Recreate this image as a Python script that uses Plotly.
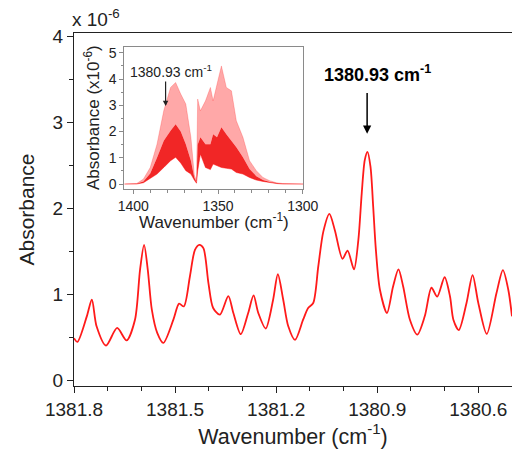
import plotly.graph_objects as go

# ---------------- main spectrum (absorbance in units of 1e-6) ----------------
wavenumber = [1381.800, 1381.790, 1381.762, 1381.747, 1381.733, 1381.705, 1381.672,
              1381.644, 1381.619, 1381.604, 1381.592, 1381.581, 1381.569, 1381.553,
              1381.535, 1381.505, 1381.488, 1381.474, 1381.456, 1381.441, 1381.428,
              1381.416, 1381.401, 1381.387, 1381.367, 1381.342, 1381.327, 1381.305,
              1381.283, 1381.267, 1381.253, 1381.231, 1381.209, 1381.195, 1381.179,
              1381.164, 1381.144, 1381.120, 1381.105, 1381.090, 1381.075, 1381.060,
              1381.042, 1381.026, 1381.003, 1380.988, 1380.969, 1380.956, 1380.946,
              1380.937, 1380.929, 1380.920, 1380.912, 1380.904, 1380.892, 1380.871,
              1380.853, 1380.837, 1380.823, 1380.803, 1380.781, 1380.759, 1380.739,
              1380.722, 1380.700, 1380.684, 1380.674, 1380.658, 1380.635, 1380.617,
              1380.600, 1380.575, 1380.546, 1380.527, 1380.511, 1380.500]
absorbance = [0.496, 0.452, 0.749, 0.942, 0.633, 0.409, 0.614,
              0.470, 0.710, 1.290, 1.579, 1.290, 0.826, 0.556,
              0.440, 0.710, 0.896, 0.864, 1.212, 1.521, 1.579,
              1.541, 1.136, 0.846, 0.768, 0.983, 0.788, 0.542,
              0.788, 0.992, 0.788, 0.608, 0.942, 1.238, 0.942,
              0.633, 0.475, 0.710, 0.846, 0.904, 1.328, 1.733,
              1.939, 1.753, 1.417, 1.512, 1.295, 1.637, 2.178,
              2.564, 2.660, 2.487, 2.023, 1.521, 1.058, 0.788,
              1.096, 1.295, 1.096, 0.710, 0.537, 0.749, 1.081,
              0.977, 1.203, 0.980, 0.710, 0.589, 0.904, 1.228,
              0.904, 0.545, 1.020, 1.286, 1.058, 0.749]

x_tick_vals = [1381.8, 1381.5, 1381.2, 1380.9, 1380.6]
x_tick_text = ["1381.8", "1381.5", "1381.2", "1380.9", "1380.6"]
y_tick_vals = [0, 1, 2, 3, 4]

peak_wn = 1380.93
peak_label = "1380.93 cm<sup>-1</sup>"

# ---------------- inset: full band envelope (x1e-6) ----------------
inset_wn = [1405.3, 1398, 1394, 1390, 1386, 1382, 1378, 1375, 1372, 1369, 1366,
            1364, 1362.7, 1362, 1360.4, 1357.4, 1354.5, 1352.9, 1350.6, 1348,
            1345.1, 1342.1, 1339.2, 1335.3, 1331.4, 1327.4, 1323.5, 1319.6,
            1315.6, 1311.8, 1299.7]
inset_min = [0, 0, 0.05, 0.2, 0.38, 0.63, 0.89, 1.02, 0.8, 0.51, 0.38,
             0.15, 0.03, 0.5, 1.14, 0.63, 0.55, 0.76, 0.7, 0.63,
             0.6, 0.57, 0.44, 0.38, 0.25, 0.15, 0.1, 0.05,
             0.02, 0, 0]
inset_core = [0, 0.01, 0.1, 0.4, 1.0, 1.65, 2.03, 2.28, 2.0, 1.52, 0.89,
              0.25, 0.08, 1.5, 1.78, 1.52, 1.52, 1.9, 1.78, 2.16,
              1.9, 1.65, 1.4, 1.02, 0.57, 0.3, 0.15, 0.08,
              0.03, 0.01, 0]
inset_max = [0, 0.02, 0.19, 0.63, 1.52, 2.8, 3.68, 3.87, 3.43, 3.05, 1.78,
             0.35, 0.12, 3.24, 2.79, 3.17, 3.68, 3.17, 3.8, 4.5,
             3.68, 3.55, 2.41, 1.78, 0.89, 0.51, 0.25, 0.13,
             0.05, 0.02, 0]
inset_x_ticks = [1400, 1350, 1300]
inset_y_ticks = [0, 1, 2, 3, 4, 5]

FONT = "Liberation Sans, Arial, sans-serif"
AX = "#222222"
INSET_AX = "#8a8a8a"

fig = go.Figure()

fig.add_trace(go.Scatter(x=wavenumber, y=absorbance, mode="lines",
                         line=dict(color="#ff1a1a", width=1.8, shape="spline", smoothing=0.8),
                         showlegend=False, hoverinfo="skip"))

# inset bands
fig.add_trace(go.Scatter(x=inset_wn, y=inset_min, mode="lines", xaxis="x2", yaxis="y2",
                         line=dict(color="rgba(255,0,0,0.55)", width=0.8),
                         showlegend=False, hoverinfo="skip"))
fig.add_trace(go.Scatter(x=inset_wn, y=inset_core, mode="lines", xaxis="x2", yaxis="y2",
                         line=dict(color="rgba(230,0,0,0.85)", width=0),
                         fill="tonexty", fillcolor="rgba(238,0,0,0.85)",
                         showlegend=False, hoverinfo="skip"))
fig.add_trace(go.Scatter(x=inset_wn, y=inset_max, mode="lines", xaxis="x2", yaxis="y2",
                         line=dict(color="rgba(255,0,0,0.35)", width=0.6),
                         fill="tonexty", fillcolor="rgba(255,0,0,0.34)",
                         showlegend=False, hoverinfo="skip"))

fig.update_layout(
    width=512, height=455,
    margin=dict(l=74, r=0, t=33, b=69, autoexpand=False),
    plot_bgcolor="white", paper_bgcolor="white",
    font=dict(family=FONT, color=AX),
    xaxis=dict(range=[1381.8, 1380.5], tickvals=x_tick_vals, ticktext=x_tick_text,
               automargin=False,
               showgrid=False, zeroline=False, showline=True, mirror=True,
               linecolor=AX, linewidth=1.3, ticks="outside", ticklen=6, tickwidth=1.3,
               tickcolor=AX, tickfont=dict(size=19, family=FONT, color=AX),
               minor=dict(tick0=1381.8, dtick=0.1, ticks="outside", ticklen=3.5,
                          tickwidth=1.2, tickcolor=AX, showgrid=False),
               title=dict(text="Wavenumber (cm<sup>-1</sup>)", font=dict(size=21.5, family=FONT, color=AX),
                          standoff=9)),
    yaxis=dict(range=[-0.06, 4.04], tickvals=y_tick_vals, automargin=False,
               showgrid=False, zeroline=False, showline=True, mirror=False,
               linecolor=AX, linewidth=1.3, ticks="outside", ticklen=6, tickwidth=1.3,
               tickcolor=AX, tickfont=dict(size=19, family=FONT, color=AX),
               minor=dict(tick0=0, dtick=0.5, ticks="outside", ticklen=3.5,
                          tickwidth=1.2, tickcolor=AX, showgrid=False),
               title=dict(text="Absorbance", font=dict(size=21, family=FONT, color=AX),
                          standoff=12)),
    xaxis2=dict(domain=[0.1148, 0.5235], anchor="y2", range=[1405.3, 1299.7],
                automargin=False,
                tickvals=inset_x_ticks, showgrid=False, zeroline=False, showline=True,
                mirror=True, linecolor=INSET_AX, linewidth=1, ticks="outside", ticklen=4,
                tickwidth=1, tickcolor=INSET_AX, tickfont=dict(size=14, family=FONT, color=AX),
                minor=dict(tick0=1300, dtick=10, ticks="outside", ticklen=2.5, tickwidth=1,
                           tickcolor=INSET_AX, showgrid=False)),
    yaxis2=dict(domain=[0.558, 0.961], anchor="x2", range=[-0.19, 5.23],
                automargin=False,
                tickvals=inset_y_ticks, showgrid=False, zeroline=False, showline=True,
                mirror=True, linecolor=INSET_AX, linewidth=1, ticks="outside", ticklen=4,
                tickwidth=1, tickcolor=INSET_AX, tickfont=dict(size=14, family=FONT, color=AX),
                minor=dict(tick0=0, dtick=0.5, ticks="outside", ticklen=2.5, tickwidth=1,
                           tickcolor=INSET_AX, showgrid=False)),
)

annotations = [
    # axis multiplier
    dict(x=0.05, y=1.0, xref="paper", yref="paper", xanchor="center", yanchor="bottom",
         text="x 10<sup>-6</sup>", showarrow=False, yshift=1,
         font=dict(size=19, family=FONT, color=AX)),
    # inset axis titles
    dict(x=0.3196, y=0.468, xref="paper", yref="paper", xanchor="center", yanchor="middle",
         text="Wavenumber (cm<sup>-1</sup>)", showarrow=False,
         font=dict(size=17, family=FONT, color=AX)),
    dict(x=0.0411, y=0.759, xref="paper", yref="paper", xanchor="center", yanchor="middle",
         text="Absorbance (x10<sup>-6</sup>)", showarrow=False, textangle=-90,
         font=dict(size=17, family=FONT, color=AX)),
    # main peak label and arrow
    dict(x=peak_wn, y=3.57, xref="x", yref="y", text="<b>" + peak_label + "</b>",
         showarrow=False, xshift=10, font=dict(size=18, family=FONT, color="black")),
    dict(x=peak_wn, y=2.87, ax=peak_wn, ay=3.36, xref="x", yref="y", axref="x", ayref="y",
         text="", showarrow=True, arrowhead=2, arrowsize=1.1, arrowwidth=1.5, arrowcolor="black"),
    # inset label and arrow
    dict(x=1377.8, y=4.31, xref="x2", yref="y2", text=peak_label, showarrow=False,
         font=dict(size=14, family=FONT, color=AX)),
    dict(x=peak_wn, y=2.97, ax=peak_wn, ay=3.96, xref="x2", yref="y2", axref="x2", ayref="y2",
         text="", showarrow=True, arrowhead=2, arrowsize=0.9, arrowwidth=1.2, arrowcolor="#222"),
]
fig.update_layout(annotations=annotations)

fig.write_html("out.html")
